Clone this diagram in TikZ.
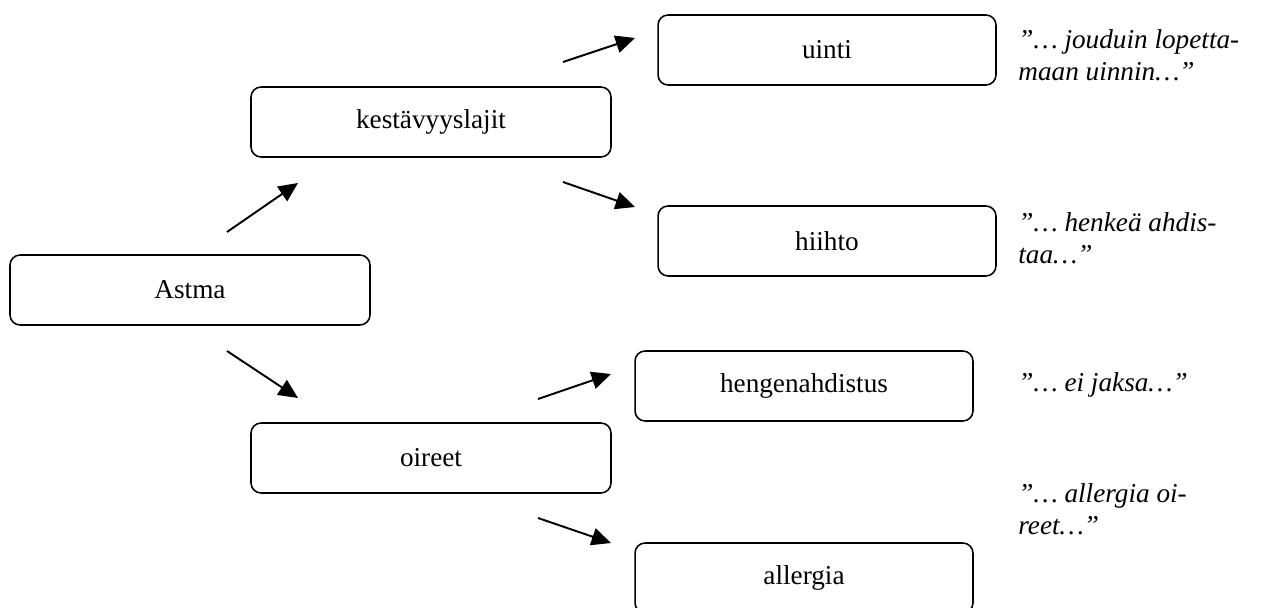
\documentclass[tikz,border=0pt]{standalone}
\usepackage{fontspec}
\setmainfont{Liberation Serif}
\usetikzlibrary{arrows.meta, positioning}
\tikzstyle{topic} = [rectangle, rounded corners=0.2cm, minimum width=7.2cm, minimum height=1.4cm, text centered, draw=black, line width=0.9pt]
\tikzstyle{sub} = [rectangle, rounded corners=0.2cm, minimum width=6.76cm, minimum height=1.4cm, text centered, draw=black, line width=0.9pt]
\tikzstyle{citation} = [anchor=west, align=left, inner sep=0pt, font=\fontsize{15.5}{18}\selectfont\itshape]
\tikzstyle{arrow} = [line width=1.1pt, -{Triangle[length=11pt,width=10pt]}]

\begin{document}
\begin{tikzpicture}[x=0.02cm, y=-0.02cm, font=\fontsize{15.5}{18}\selectfont]
\useasboundingbox (0,0) rectangle (1261,608);

% Main topic and its two branches
\node[topic] (astma) at (190,290) {Astma};
\node[topic] (kestavyys) at (431,122) {kestävyyslajit};
\node[topic] (oireet) at (431,458) {oireet};

% Sports
\node[sub] (uinti) at (827,50) {uinti};
\node[sub] (hiihto) at (827,241) {hiihto};

% Symptoms
\node[sub] (hengen) at (804,386) {hengenahdistus};
\node[sub] (allergia) at (804,578) {allergia};

% Quotes beside the boxes
\node[citation] (qUinti) at (1018,55) {”… jouduin lopetta-\\maan uinnin…”};
\node[citation] (qHiihto) at (1018,238) {”… henkeä ahdis-\\taa…”};
\node[citation] (qHengen) at (1018,385) {”… ei jaksa…”};
\node[citation] (qAllergia) at (1018,509) {”… allergia oi-\\reet…”};

% arrow ends (arrows float between the boxes)
\coordinate (astmaUp) at (227,232);
\coordinate (kestIn) at (298,183);
\coordinate (astmaDown) at (227,351);
\coordinate (oireetIn) at (298,398);
\coordinate (kestUp) at (563,62);
\coordinate (uintiIn) at (635,38);
\coordinate (kestDown) at (563,182);
\coordinate (hiihtoIn) at (635,207);
\coordinate (oireetUp) at (538,399);
\coordinate (hengenIn) at (611,374);
\coordinate (oireetDown) at (538,518);
\coordinate (allergiaIn) at (611,543);

\draw[arrow] (astmaUp) -- (kestIn);
\draw[arrow] (astmaDown) -- (oireetIn);
\draw[arrow] (kestUp) -- (uintiIn);
\draw[arrow] (kestDown) -- (hiihtoIn);
\draw[arrow] (oireetUp) -- (hengenIn);
\draw[arrow] (oireetDown) -- (allergiaIn);

\end{tikzpicture}
\end{document}
